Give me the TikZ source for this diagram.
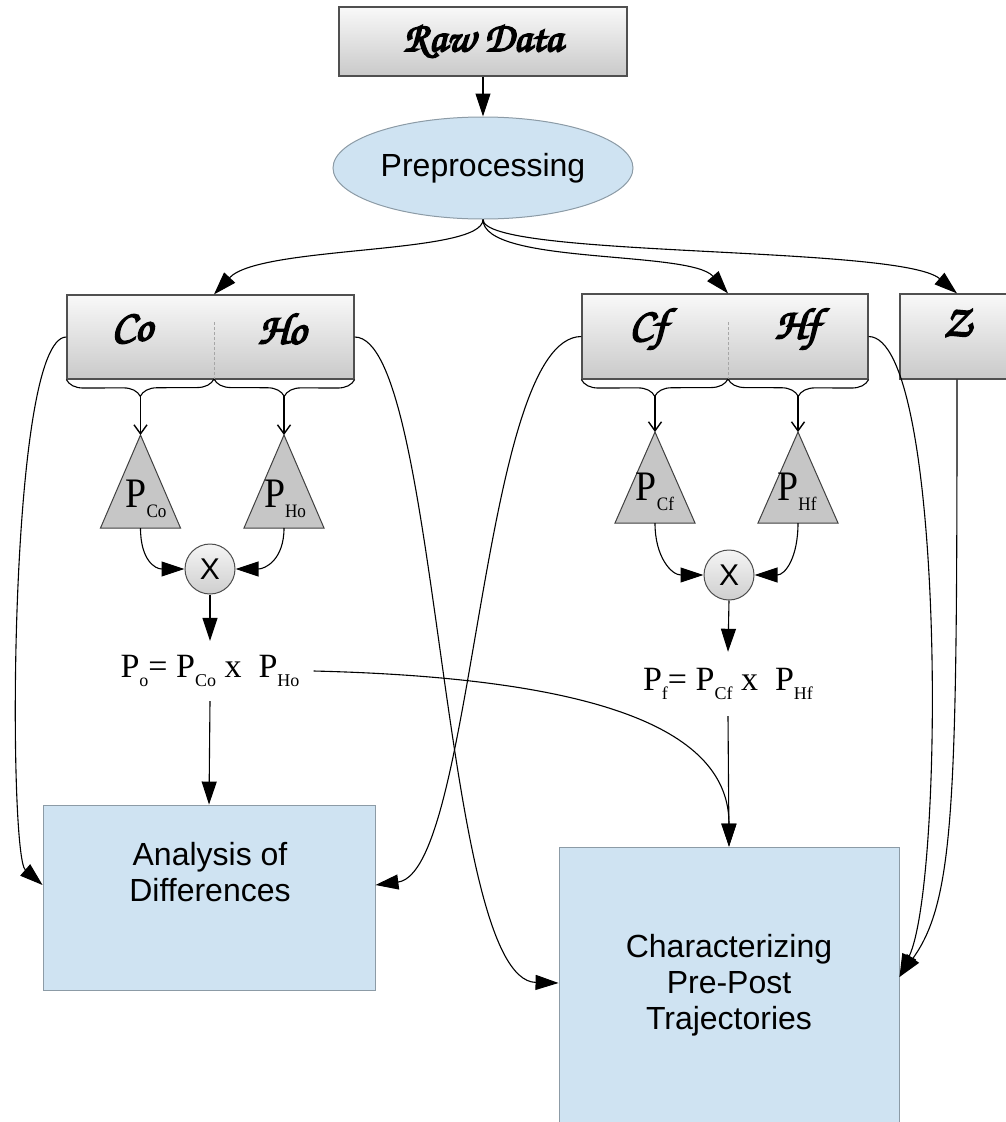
\documentclass[tikz,border=0pt]{standalone}
\usepackage{fontspec}
\usepackage{graphicx}
\setmainfont{Liberation Serif}
\newfontfamily\sansf{Liberation Sans}
\newfontfamily\chancery{texgyrechorus-mediumitalic.otf}[FakeBold=4]
\usetikzlibrary{arrows.meta,shapes.geometric,decorations.pathreplacing}

\definecolor{boxline}{HTML}{505050}
\definecolor{paleblue}{HTML}{CFE3F2}
\definecolor{blueline}{HTML}{8C9BA6}
\definecolor{trifill}{HTML}{C6C6C6}

% probability symbol inside a triangle: large P with a lowered index
\newcommand{\Ptri}[1]{\scalebox{0.9}[1]{\fontsize{42}{42}\selectfont P\raisebox{-10pt}{\fontsize{19}{19}\selectfont #1}}}
% probability symbol inside a product formula
\newcommand{\Pform}[1]{P\raisebox{-9pt}{\fontsize{18}{18}\selectfont #1}}

\begin{document}
\begin{tikzpicture}[x=1pt,y=-1pt,
  graybox/.style={draw=boxline, line width=1.2pt, top color=gray!5, bottom color=gray!42, inner sep=0},
  bluebox/.style={draw=blueline, line width=0.9pt, fill=paleblue, inner sep=0},
  scr/.style={font=\chancery\fontsize{#1}{#1}\selectfont},
  sans/.style={font=\sansf\fontsize{32}{36}\selectfont, align=center},
  link/.style={line width=1.1pt, draw=black},
  arr/.style={link, -{Triangle[length=23pt,width=15pt]}},
  barb/.style={link, -{Straight Barb[length=9pt,width=13pt,line width=1.4pt]}},
  tri/.style={draw=black!75, line width=1pt, fill=trifill},
  mult/.style={circle, draw=black!70, line width=1pt, top color=gray!8, bottom color=gray!38,
    minimum size=50, inner sep=0, font=\sansf\fontsize{30}{30}\selectfont},
  divider/.style={draw=gray!70, line width=0.8pt, dash pattern=on 3pt off 2pt},
  curly/.style={link, decorate, decoration={brace, mirror, amplitude=17pt}},
  formula/.style={inner sep=0, font=\fontsize{34}{34}\selectfont},
]
\useasboundingbox (0,0) rectangle (1006,1122);

% ---- source and preprocessing
\node[graybox, minimum width=288, minimum height=69, scr=42] (raw) at (483,41.5) {Raw Data};
\node[ellipse, draw=blueline, fill=paleblue, line width=1pt, minimum width=300, minimum height=102,
  inner sep=0, font=\sansf\fontsize{32}{36}\selectfont] (pre) at (483,168) {Preprocessing};
\draw[arr] (raw) -- (pre);

% ---- the three feature boxes
\node[graybox, minimum width=287, minimum height=84] (cho) at (210.5,337) {};
\node[graybox, minimum width=286, minimum height=85] (chf) at (725,336.5) {};
\node[graybox, minimum width=114, minimum height=85] (zbox) at (957,336.5) {};
\coordinate (dvo) at (214,379);
\coordinate (dvf) at (728,379);
\draw[divider] (214,322) -- (dvo);
\draw[divider] (728,322) -- (dvf);
\node[scr=44] (co) at (132,329) {Co};
\node[scr=44] (ho) at (282,329) {Ho};
\node[scr=44] (cf) at (648,329) {Cf};
\node[scr=44] (hf) at (797,329) {Hf};
\node[scr=44] (zt) at (957,323) {Z};

\draw[arr] (pre.south) .. controls (483,255) and (260,245) .. (dvo |- cho.north);
\draw[arr] (pre.south) .. controls (483,265) and (690,250) .. (dvf |- chf.north);
\draw[arr] (pre.south) .. controls (483,258) and (900,245) .. (zbox.north);

% ---- braces splitting each box into its two halves
\draw[curly] (cho.south west) -- (dvo);
\draw[curly] (dvo) -- (cho.south east);
\draw[curly] (chf.south west) -- (dvf);
\draw[curly] (dvf) -- (chf.south east);
\coordinate (bco) at (140.5,396);
\coordinate (bho) at (284,396);
\coordinate (bcf) at (655,396);
\coordinate (bhf) at (798,396);

% ---- probability triangles
\coordinate (tcoA) at (140.5,435); \coordinate (tcoB) at (140.5,528);
\coordinate (thoA) at (284,435);   \coordinate (thoB) at (284,528);
\coordinate (tcfA) at (655,432);   \coordinate (tcfB) at (655,523);
\coordinate (thfA) at (798,432);   \coordinate (thfB) at (798,523);
\foreach \t in {tco,tho,tcf,thf}
  \draw[tri] (\t A) -- ([xshift=-40pt]\t B) -- ([xshift=40pt]\t B) -- cycle;
\node[anchor=base, inner sep=0] (ptco) at (146,507) {\Ptri{Co}};
\node[anchor=base, inner sep=0] (ptho) at (285,507) {\Ptri{Ho}};
\node[anchor=base, inner sep=0] (ptcf) at (655,500) {\Ptri{Cf}};
\node[anchor=base, inner sep=0] (pthf) at (797,500) {\Ptri{Hf}};

\draw[barb] (bco) -- (tcoA);
\draw[barb] (bho) -- (thoA);
\draw[barb] (bcf) -- (tcfA);
\draw[barb] (bhf) -- (thfA);

% ---- products
\node[mult] (xo) at (210,569) {X};
\node[mult] (xf) at (729,575) {X};
\draw[arr] (tcoB) .. controls (140.5,560) and (155,569) .. (xo.west);
\draw[arr] (thoB) .. controls (284,560) and (265,569) .. (xo.east);
\draw[arr] (tcfB) .. controls (655,558) and (672,575) .. (xf.west);
\draw[arr] (thfB) .. controls (798,558) and (785,575) .. (xf.east);

\node[formula, minimum height=60] (po) at (210,671) {\Pform{o}= \Pform{Co} x\ \ \Pform{Ho}};
\node[formula, minimum height=64] (pf) at (728,684) {\Pform{f}= \Pform{Cf} x\ \ \Pform{Hf}};
\draw[arr] (xo.south) -- (po.north);
\draw[arr] (xf.south) -- (pf.north);

% ---- analysis targets
\node[bluebox, minimum width=332, minimum height=185] (ana) at (209,897.5) {};
\node[sans] (anat) at (210,872) {Analysis of\\Differences};
\node[bluebox, minimum width=340, minimum height=288] (chr) at (729,991) {};
\node[sans] (chrt) at (729,985) {Characterizing\\Pre-Post\\Trajectories};

\draw[arr] (po.south) -- (ana.north);
\draw[arr] (pf.south) -- (chr.north);
\draw[arr] ([xshift=14pt]po.east) .. controls (600,678) and (729,730) .. (chr.north);

\draw[arr] (cho.west) .. controls (8,337) and (8,855) .. ([yshift=12.5pt]ana.west);
\draw[arr] (cho.east) .. controls (440,337) and (440,980) .. ([yshift=8pt]chr.west);
\draw[arr] (chf.west) .. controls (480,337) and (475,872) .. ([yshift=12.5pt]ana.east);
\draw[arr] (chf.east) .. controls (945,337) and (945,880) .. ([yshift=14pt]chr.east);
\draw[arr] (zbox.south) .. controls (957,800) and (955,900) .. ([yshift=14pt]chr.east);
\end{tikzpicture}
\end{document}
